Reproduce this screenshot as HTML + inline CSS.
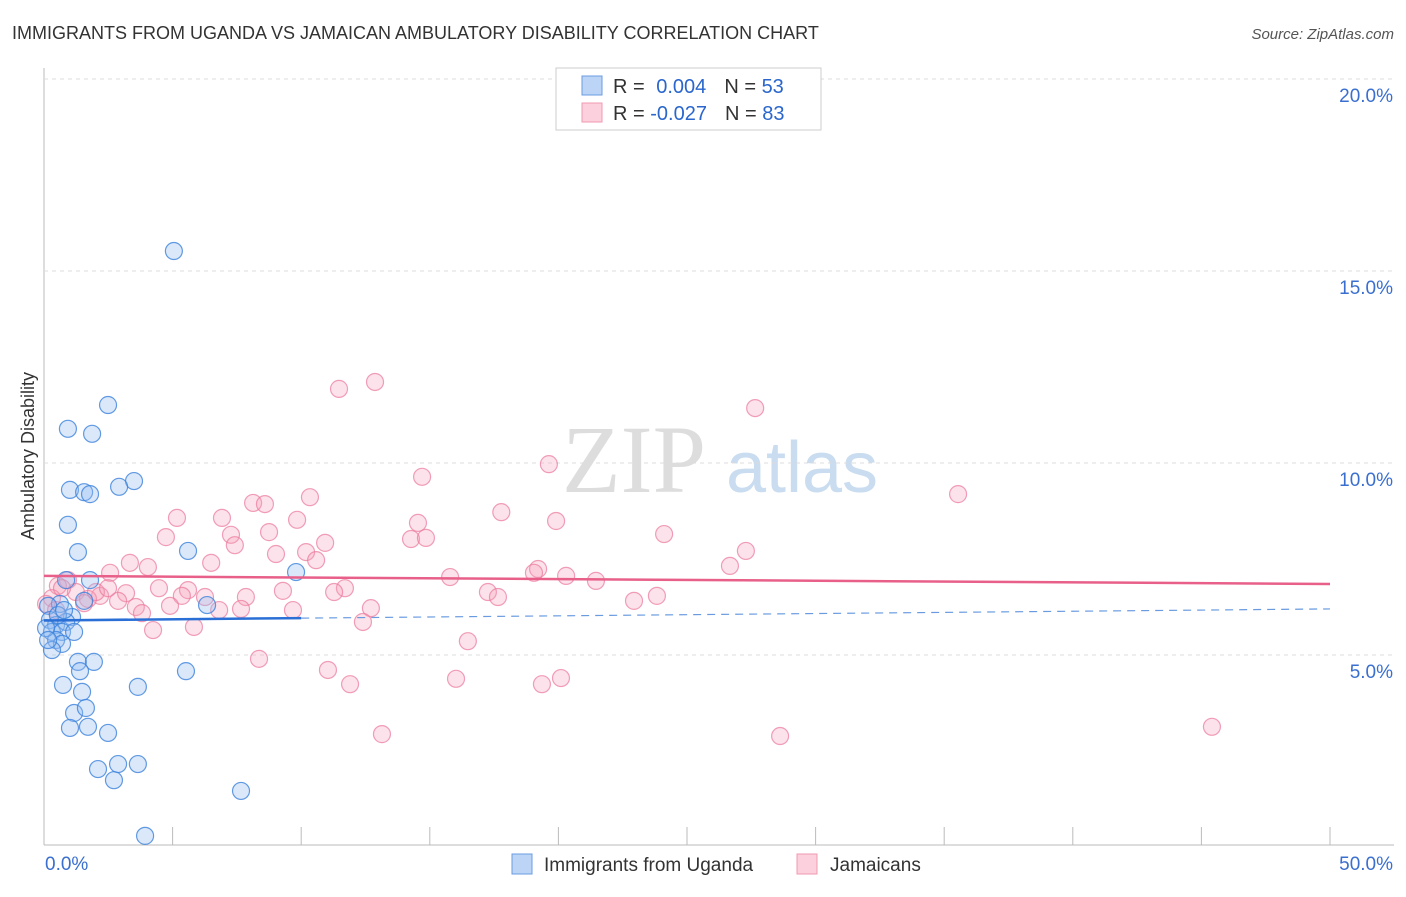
<!DOCTYPE html>
<html><head><meta charset="utf-8"><style>
body{margin:0;background:#fff;font-family:"Liberation Sans",sans-serif}
</style></head><body>
<svg id="c" width="1406" height="892" xmlns="http://www.w3.org/2000/svg" style="font-family:'Liberation Sans',sans-serif">
<text x="12" y="39" font-size="18" fill="#333">IMMIGRANTS FROM UGANDA VS JAMAICAN AMBULATORY DISABILITY CORRELATION CHART</text>
<text x="1394" y="39" font-size="15" fill="#555" text-anchor="end" font-style="italic">Source: ZipAtlas.com</text>
<text x="34" y="456" font-size="18" fill="#333" text-anchor="middle" transform="rotate(-90 34 456)">Ambulatory Disability</text>
<g><text x="634" y="492" font-size="96" fill="#ddd" font-family="Liberation Serif" text-anchor="middle">ZIP</text><text x="802" y="492" font-size="72" fill="#c9dcf0" text-anchor="middle">atlas</text></g>
<g id="grid"></g><g id="pts"></g><g id="lines"></g>
<g>
<rect x="556" y="68" width="265" height="62" fill="#fff" stroke="#ccc"/>
<rect x="582" y="76" width="20" height="19" fill="#bcd4f5" stroke="#6a9be0"/>
<rect x="582" y="103" width="20" height="19" fill="#fcd0dc" stroke="#f09ab2"/>
<text x="613" y="93" font-size="20" fill="#333">R = <tspan fill="#2a66cc" dx="6">0.004</tspan><tspan dx="18" fill="#333">N = </tspan><tspan fill="#2a66cc">53</tspan></text>
<text x="613" y="120" font-size="20" fill="#333">R = <tspan fill="#2a66cc">-0.027</tspan><tspan dx="18" fill="#333">N = </tspan><tspan fill="#2a66cc">83</tspan></text>
</g>
<g>
<rect x="512" y="854" width="20" height="20" fill="#bcd4f5" stroke="#6a9be0"/>
<text x="544" y="871" font-size="19" fill="#333">Immigrants from Uganda</text>
<rect x="797" y="854" width="20" height="20" fill="#fcd0dc" stroke="#f09ab2"/>
<text x="830" y="871" font-size="19" fill="#333">Jamaicans</text>
</g>
</svg>
<script>
const yTicks=[5,10,15,20];
const xTickLabels=["0.0%","50.0%"];
const ugX=[5.05,2.49,0.93,1.87,3.50,1.01,1.56,1.79,2.92,0.93,1.32,5.60,9.80,0.86,1.79,1.56,6.34,0.62,0.16,1.09,0.23,0.47,0.86,0.31,0.70,1.17,0.47,0.70,0.31,1.32,1.94,1.40,5.52,0.74,3.65,1.48,1.17,1.63,1.01,1.71,2.49,2.10,2.88,3.65,2.72,7.66,3.93,0.08,0.54,0.16,0.78];
const ugY=[15.52,11.51,10.89,10.76,9.53,9.30,9.24,9.19,9.38,8.39,7.68,7.71,7.16,6.95,6.95,6.41,6.30,6.33,6.28,5.99,5.91,5.78,5.86,5.60,5.60,5.60,5.39,5.29,5.13,4.82,4.82,4.58,4.58,4.22,4.17,4.04,3.49,3.62,3.10,3.13,2.97,2.03,2.16,2.16,1.74,1.46,0.29,5.70,6.04,5.39,6.17];
const jmX=[12.87,11.47,27.65,19.63,14.70,35.54,10.34,8.13,8.59,17.78,5.17,6.92,9.84,19.91,14.54,8.75,24.11,4.74,7.27,14.27,14.85,10.93,7.42,27.29,9.02,10.19,3.34,6.50,10.58,4.04,26.67,19.21,2.57,19.05,15.79,20.30,21.46,0.93,0.54,4.47,5.60,11.70,11.28,17.26,9.29,3.19,2.18,1.24,5.36,17.65,6.26,7.85,23.83,22.94,0.31,1.71,2.88,1.56,3.57,4.90,6.81,9.68,12.71,0.08,0.47,3.81,7.66,12.40,4.24,5.83,16.48,8.36,11.04,11.90,16.02,19.36,20.10,13.14,28.62,45.41,2.02,2.49,0.70];
const jmY=[12.11,11.93,11.43,9.97,9.64,9.19,9.11,8.96,8.93,8.72,8.57,8.57,8.52,8.49,8.44,8.20,8.15,8.07,8.13,8.02,8.05,7.92,7.86,7.71,7.63,7.68,7.40,7.40,7.47,7.29,7.32,7.24,7.14,7.14,7.03,7.06,6.93,6.95,6.80,6.74,6.69,6.74,6.64,6.64,6.67,6.61,6.54,6.64,6.54,6.51,6.51,6.51,6.54,6.41,6.48,6.46,6.41,6.35,6.25,6.28,6.17,6.17,6.22,6.33,6.17,6.09,6.20,5.86,5.65,5.73,5.36,4.90,4.61,4.24,4.38,4.24,4.40,2.94,2.89,3.13,6.64,6.74,6.74];
const ugTrend=[5.90,6.20]; // at x=0 and x=50
const jmTrend=[7.06,6.85];
const ugSolidEnd=10;
const NS="http://www.w3.org/2000/svg";
const X=v=>44+v*1286/50, Y=v=>847-v*38.4;
function mk(t,a,p){const e=document.createElementNS(NS,t);for(const k in a)e.setAttribute(k,a[k]);p.appendChild(e);return e;}
const grid=document.getElementById('grid');
mk('line',{x1:44,y1:68,x2:44,y2:845,stroke:'#bbb'},grid);
mk('line',{x1:44,y1:845,x2:1394,y2:845,stroke:'#bbb'},grid);
for(const t of yTicks){
 const g=mk('line',{x1:44,y1:Y(t),x2:1394,y2:Y(t),stroke:'#ddd','stroke-dasharray':'4,4'},grid);
 
 
 const l=mk('text',{x:1393,y:Y(t)+23,'font-size':19,fill:'#3a6fd0','text-anchor':'end'},grid);
 l.textContent=t.toFixed(1)+'%';
 
 
}
for(let i=1;i<=10;i++){const x=X(i*5);const t=mk('line',{x1:x,y1:827,x2:x,y2:845,stroke:'#bbb'},grid);
 
 }
const l0=mk('text',{x:45,y:870,'font-size':19,fill:'#3a6fd0'},grid);l0.textContent=xTickLabels[0];


const l1=mk('text',{x:1393,y:870,'font-size':19,fill:'#3a6fd0','text-anchor':'end'},grid);l1.textContent=xTickLabels[1];


const pts=document.getElementById('pts');
jmX.forEach((x,i)=>{const c=mk('circle',{cx:X(x),cy:Y(jmY[i]),r:8.5,fill:'rgba(245,160,185,0.3)',stroke:'rgba(235,120,155,0.7)','stroke-width':1.2},pts);
 
 });
ugX.forEach((x,i)=>{const c=mk('circle',{cx:X(x),cy:Y(ugY[i]),r:8.5,fill:'rgba(150,190,240,0.35)',stroke:'rgba(60,130,220,0.8)','stroke-width':1.2},pts);
 
 });
const ln=document.getElementById('lines');
const ty=(tr,x)=>tr[0]+(tr[1]-tr[0])*x/50;
const a=mk('line',{x1:X(0),y1:Y(jmTrend[0]),x2:X(50),y2:Y(jmTrend[1]),stroke:'#e8608a','stroke-width':2.5},ln);


const b=mk('line',{x1:X(0),y1:Y(ty(ugTrend,0)),x2:X(ugSolidEnd),y2:Y(ty(ugTrend,ugSolidEnd)),stroke:'#2a6fd6','stroke-width':2.5},ln);


const d=mk('line',{x1:X(ugSolidEnd),y1:Y(ty(ugTrend,ugSolidEnd)),x2:X(50),y2:Y(ugTrend[1]),stroke:'#6a9be0','stroke-width':1.2,'stroke-dasharray':'8,6'},ln);


</script>
</body></html>
